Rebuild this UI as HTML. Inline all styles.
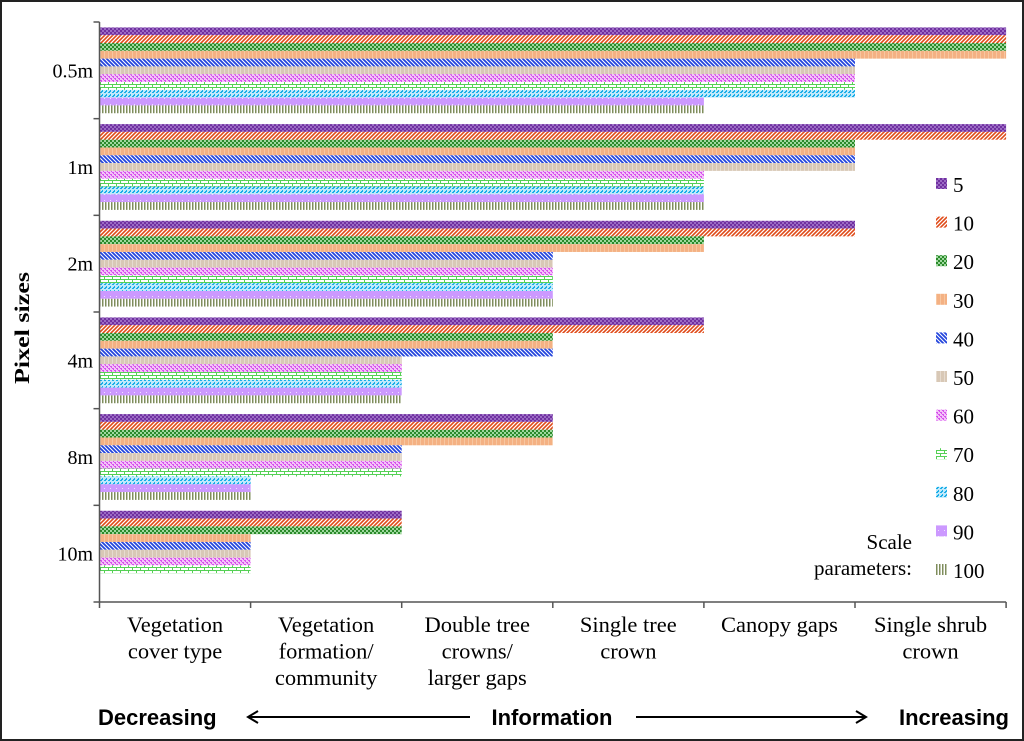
<!DOCTYPE html>
<html><head><meta charset="utf-8"><style>
html,body{margin:0;padding:0;background:#fff;}
svg{display:block;}
</style></head><body>
<svg id="chart" width="1024" height="741" xmlns="http://www.w3.org/2000/svg">
<defs>
<pattern id="p5" width="4" height="4" patternUnits="userSpaceOnUse"><rect width="4" height="4" fill="#7030a0"/><rect width="2" height="2" fill="#9b6bc4"/><rect x="2" y="2" width="2" height="2" fill="#9b6bc4"/></pattern>
<pattern id="p10" width="4" height="4" patternUnits="userSpaceOnUse"><rect width="4" height="4" fill="#fff"/><path d="M-1,1 l2,-2 M0,4 l4,-4 M3,5 l2,-2" stroke="#e04a18" stroke-width="1.6"/></pattern>
<pattern id="p20" width="4" height="4" patternUnits="userSpaceOnUse"><rect width="4" height="4" fill="#2a8a2a"/><rect width="2" height="2" fill="#9fd89f"/><rect x="2" y="2" width="2" height="2" fill="#9fd89f"/></pattern>
<pattern id="p30" width="4" height="4" patternUnits="userSpaceOnUse"><rect width="4" height="4" fill="#f4b183"/><rect width="1" height="4" fill="#f7c6a0"/></pattern>
<pattern id="p40" width="4" height="4" patternUnits="userSpaceOnUse"><rect width="4" height="4" fill="#fff"/><path d="M-1,3 l2,2 M0,0 l4,4 M3,-1 l2,2" stroke="#2244dd" stroke-width="1.8"/></pattern>
<pattern id="p50" width="4" height="4" patternUnits="userSpaceOnUse"><rect width="4" height="4" fill="#d8c8b6"/><rect width="1" height="4" fill="#e6dbcf"/></pattern>
<pattern id="p60" width="4" height="4" patternUnits="userSpaceOnUse"><rect width="4" height="4" fill="#f3c2f8"/><rect width="2" height="1" fill="#d752ee"/><rect x="2" y="2" width="2" height="1" fill="#d752ee"/><rect x="1" y="1" width="1" height="1" fill="#d752ee"/><rect x="3" y="3" width="1" height="1" fill="#d752ee"/></pattern>
<pattern id="p70" width="8" height="6" patternUnits="userSpaceOnUse"><rect width="8" height="6" fill="#fff"/><path d="M0,0.5 h8 M0,3.5 h8 M0.5,0 v3 M4.5,3 v3" stroke="#55d055" stroke-width="1"/></pattern>
<pattern id="p80" width="4" height="4" patternUnits="userSpaceOnUse"><rect width="4" height="4" fill="#bfe9fb"/><rect width="2" height="1" fill="#1aaee8"/><rect x="2" y="2" width="1" height="2" fill="#1aaee8"/><rect x="1" y="3" width="1" height="1" fill="#1aaee8"/></pattern>
<pattern id="p90" width="6" height="6" patternUnits="userSpaceOnUse"><rect width="6" height="6" fill="#cc99ff"/><rect x="2" y="2" width="1" height="1" fill="#eee0ff"/></pattern>
<pattern id="p100" width="3" height="4" patternUnits="userSpaceOnUse"><rect width="3" height="4" fill="#fff"/><rect width="1.5" height="4" fill="#7f8d5c"/></pattern>
</defs>
<rect x="1" y="1" width="1022" height="739" fill="none" stroke="#222" stroke-width="2"/>
<g id="bars"></g>
<g id="axes"></g>
<g id="legend"></g>
<text transform="translate(29,328) rotate(-90)" text-anchor="middle" font-family="Liberation Serif, serif" font-weight="bold" font-size="21" textLength="112" lengthAdjust="spacingAndGlyphs">Pixel sizes</text>
<text font-family="Liberation Serif, serif" font-size="21" text-anchor="end"><tspan x="912" y="549">Scale</tspan><tspan x="912" y="575">parameters:</tspan></text>
<g font-family="Liberation Sans, sans-serif" font-weight="bold" font-size="22">
<text x="98" y="725">Decreasing</text>
<text x="552" y="725" text-anchor="middle">Information</text>
<text x="1009" y="725" text-anchor="end">Increasing</text>
<path d="M470,717 H248 M258,711 L248,717 L258,723" stroke="#000" stroke-width="2" fill="none"/>
<path d="M636,717 H866 M856,711 L866,717 L856,723" stroke="#000" stroke-width="2" fill="none"/>
</g>
</svg>
<script>
const pixelSizes = ["0.5m","1m","2m","4m","8m","10m"];
const scaleParams = ["5","10","20","30","40","50","60","70","80","90","100"];
const levelLabels = [["Vegetation","cover type"],["Vegetation","formation/","community"],["Double tree","crowns/","larger gaps"],["Single tree","crown"],["Canopy gaps"],["Single shrub","crown"]];
const v05 = [6,6,6,6,5,5,5,5,5,4,4];
const v1  = [6,6,5,5,5,5,4,4,4,4,4];
const v2  = [5,5,4,4,3,3,3,3,3,3,3];
const v4  = [4,4,3,3,3,2,2,2,2,2,2];
const v8  = [3,3,3,3,2,2,2,2,1,1,1];
const v10 = [2,2,2,1,1,1,1,1,0,0,0];
const seriesByPixel = [v05,v1,v2,v4,v8,v10];

const NS="http://www.w3.org/2000/svg";
const x0=99.5, unit=151.1, yTop=22, yBot=602;
const band=(yBot-yTop)/pixelSizes.length, barH=7.8, pad=(band-barH*scaleParams.length)/2;
const xs=v=>x0+v*unit;
function mk(t,a){const e=document.createElementNS(NS,t);for(const k in a)e.setAttribute(k,a[k]);return e;}
const gb=document.getElementById('bars'), ga=document.getElementById('axes'), gl=document.getElementById('legend');
seriesByPixel.forEach((vals,gi)=>{
  vals.forEach((v,si)=>{
    if(v<=0) return;
    const r=mk('rect',{x:x0,y:yTop+gi*band+pad+si*barH,width:xs(v)-x0,height:barH,fill:'url(#p'+scaleParams[si]+')'});
    
    
    gb.appendChild(r);
  });
  const t=mk('text',{x:93,y:yTop+gi*band+band/2+7,'text-anchor':'end','font-family':'Liberation Serif, serif','font-size':20});
  t.textContent=pixelSizes[gi];
  
  
  ga.appendChild(t);
});
const axisPath=mk('path',{d:`M${x0},${yTop} V${yBot} H${xs(6)}`,stroke:'#555','stroke-width':1.5,fill:'none'});


ga.appendChild(axisPath);
for(let i=0;i<=pixelSizes.length;i++){
  const tk=mk('path',{d:`M${x0-6},${yTop+i*band} H${x0}`,stroke:'#555','stroke-width':1.5});
  
  
  ga.appendChild(tk);
}
for(let i=0;i<=levelLabels.length;i++){
  const tk=mk('path',{d:`M${xs(i)},${yBot} V${yBot+6}`,stroke:'#555','stroke-width':1.5});
  
  
  ga.appendChild(tk);
}
levelLabels.forEach((lines,i)=>{
  const t=mk('text',{'text-anchor':'middle','font-family':'Liberation Serif, serif','font-size':22.5});
  
  
  lines.forEach((ln,j)=>{const s=mk('tspan',{x:xs(i+0.5),y:632+j*26.5});s.textContent=ln;t.appendChild(s);});
  ga.appendChild(t);
});
scaleParams.forEach((p,i)=>{
  const y=184+i*38.6;
  const r=mk('rect',{x:936,y:y-6,width:11,height:11,fill:'url(#p'+p+')'});
  
  
  gl.appendChild(r);
  const t=mk('text',{x:953,y:y+8,'font-family':'Liberation Serif, serif','font-size':21});
  t.textContent=p;
  
  
  gl.appendChild(t);
});
</script>
</body></html>
